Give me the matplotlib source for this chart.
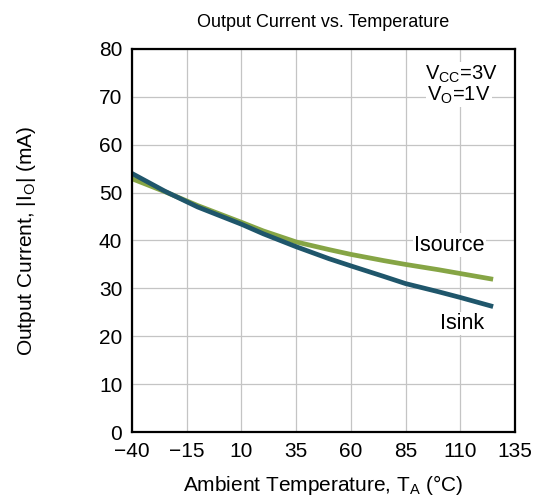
import matplotlib
matplotlib.use('Agg')
import matplotlib.pyplot as plt

plt.rcParams['font.family'] = ['Liberation Sans', 'DejaVu Sans']
plt.rcParams['mathtext.fontset'] = 'custom'
plt.rcParams['mathtext.rm'] = 'Liberation Sans'

# data
temps = [-40, -25, -10, 10, 20, 35, 50, 60, 75, 85, 100, 110, 125]
isink = [54.0, 50.3, 47.0, 43.4, 41.4, 38.7, 36.2, 34.7, 32.5, 31.0, 29.3, 28.1, 26.2]
isource = [52.9, 50.2, 47.3, 43.8, 42.0, 39.7, 38.1, 37.1, 35.8, 35.0, 33.9, 33.1, 31.9]
xticks = [-40, -15, 10, 35, 60, 85, 110, 135]
yticks = [0, 10, 20, 30, 40, 50, 60, 70, 80]

fig = plt.figure(figsize=(5.42, 5.04), dpi=100)
ax = fig.add_axes([132 / 542, 1 - 432 / 504, (515 - 132) / 542, (432 - 49) / 504])

ax.plot(temps, isource, color='#86a545', lw=3.4, solid_capstyle='butt', solid_joinstyle='round')
ax.plot(temps, isink, color='#1f566b', lw=3.4, solid_capstyle='butt', solid_joinstyle='round')

ax.set_xlim(-40, 135)
ax.set_ylim(0, 80)
ax.set_xticks(xticks)
ax.set_yticks(yticks)
ax.tick_params(length=0, labelsize=15, pad=7)
ax.grid(True, color='#c4c4c4', lw=0.9)
for s in ax.spines.values():
    s.set_linewidth(1.6)
    s.set_color('black')

ax.set_title('Output Current vs. Temperature', fontsize=13, pad=16)
ax.set_xlabel(r'Ambient Temperature, T$_{\mathregular{A}}$ (°C)', fontsize=15, labelpad=9)
ax.set_ylabel(r'Output Current, |I$_{\mathregular{O}}$| (mA)', fontsize=15, labelpad=44)

ax.text(110.5, 74.8, r'V$_{\mathregular{CC}}$=3V', fontsize=14.5, ha='center', va='center',
        bbox=dict(fc='white', ec='none', pad=1))
ax.text(109.5, 70.3, r'V$_{\mathregular{O}}$=1V', fontsize=14.5, ha='center', va='center',
        bbox=dict(fc='white', ec='none', pad=1))
ax.text(105, 39.0, 'Isource', fontsize=15.5, ha='center', va='center',
        bbox=dict(fc='white', ec='none', pad=1))
ax.text(110.7, 22.7, 'Isink', fontsize=15.5, ha='center', va='center',
        bbox=dict(fc='white', ec='none', pad=1))

fig.savefig('out.png', dpi=100)
